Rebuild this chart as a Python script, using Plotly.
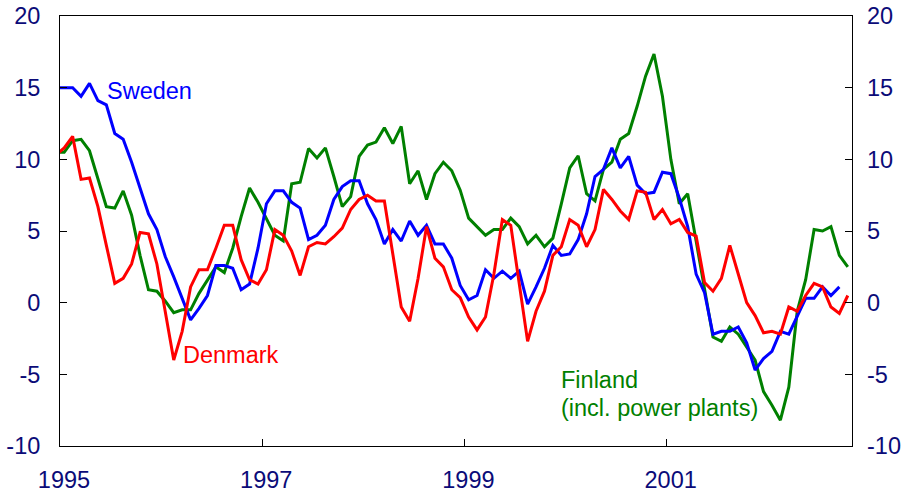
import plotly.graph_objects as go

# monthly observations, first value = Dec 1994 (clipped at left edge)
start_year = 1994
start_month = 12

sweden = [15.0, 15.0, 15.0, 14.4, 15.3, 14.1, 13.8, 11.8, 11.4, 9.8, 8.0, 6.2, 5.1, 3.2, 1.8, 0.3,
          -1.2, -0.4, 0.5, 2.6, 2.6, 2.4, 0.9, 1.3, 3.8, 6.9, 7.8, 7.8, 7.0, 6.6, 4.4, 4.7,
          5.4, 7.2, 8.1, 8.5, 8.5, 6.9, 5.8, 4.1, 5.1, 4.3, 5.7, 4.7, 5.4, 4.1, 4.1, 3.1,
          1.2, 0.2, 0.5, 2.3, 1.7, 2.2, 1.7, 2.2, -0.1, 1.1, 2.4, 4.0, 3.3, 3.4, 4.4, 6.2,
          8.8, 9.3, 10.8, 9.4, 10.2, 8.2, 7.6, 7.7, 9.1, 9.0, 7.3, 5.3, 2.0, 0.7, -2.2, -2.0,
          -2.0, -1.7, -2.8, -4.7, -3.9, -3.4, -2.0, -2.2, -0.9, 0.3, 0.3, 1.1, 0.5, 1.1]

denmark = [10.3, 10.8, 11.6, 8.6, 8.7, 6.7, 4.0, 1.35, 1.7, 2.7, 4.9, 4.8, 2.7, -0.6, -4.0, -2.0,
           1.1, 2.3, 2.3, 3.8, 5.4, 5.4, 3.0, 1.6, 1.3, 2.3, 5.1, 4.7, 3.6, 1.9, 3.9, 4.2,
           4.1, 4.6, 5.2, 6.5, 7.2, 7.5, 7.1, 7.1, 3.3, -0.3, -1.3, 1.7, 5.3, 3.1, 2.5, 0.9,
           0.35, -1.0, -1.9, -1.0, 2.0, 5.8, 5.4, 1.4, -2.7, -0.6, 0.8, 3.3, 3.9, 5.8, 5.4, 3.9,
           5.1, 7.9, 7.2, 6.4, 5.8, 7.8, 7.7, 5.8, 6.5, 5.5, 5.8, 4.9, 4.65, 1.4, 0.8, 1.7,
           4.0, 2.0, 0.0, -0.9, -2.1, -2.0, -2.2, -0.3, -0.6, 0.5, 1.35, 1.1, -0.3, -0.75, 0.5]

finland = [10.5, 10.5, 11.3, 11.4, 10.6, 8.7, 6.7, 6.6, 7.8, 6.1, 3.3, 0.9, 0.8, 0.1, -0.7, -0.5,
           -0.5, 0.65, 1.6, 2.5, 2.1, 3.8, 6.0, 8.0, 7.0, 5.9, 4.7, 4.3, 8.3, 8.4, 10.75, 10.1,
           10.8, 8.8, 6.7, 7.4, 10.2, 11.0, 11.2, 12.2, 11.1, 12.3, 8.3, 9.2, 7.2, 9.0, 9.8, 9.2,
           7.85, 5.9, 5.3, 4.7, 5.1, 5.1, 5.9, 5.3, 4.1, 4.7, 3.9, 4.5, 6.9, 9.4, 10.25, 7.6,
           7.1, 9.3, 9.8, 11.4, 11.8, 13.7, 15.8, 17.35, 14.4, 10.0, 6.9, 7.6, 4.3, 0.95, -2.4, -2.7,
           -1.7, -2.2, -3.1, -4.0, -6.2, -7.15, -8.2, -5.9, -0.6, 1.6, 5.1, 5.0, 5.3, 3.3, 2.5]

y_tick_vals = [-10, -5, 0, 5, 10, 15, 20]
y_tick_text = ["-10", "-5", "0", "5", "10", "15", "20"]
x_tick_vals = [1995, 1997, 1999, 2001]
x_tick_text = ["1995", "1997", "1999", "2001"]


def month_x(n):
    # mid-month position in decimal years
    return [start_year + (start_month - 1 + i + 0.5) / 12.0 for i in range(n)]


FONT = "Liberation Sans, Arial, sans-serif"
NAVY = "#0b0b78"
FS = 23.5

fig = go.Figure()
fig.add_trace(go.Scatter(x=month_x(len(finland)), y=finland, mode="lines",
                         line=dict(color="#008000", width=3), hoverinfo="skip"))
fig.add_trace(go.Scatter(x=month_x(len(sweden)), y=sweden, mode="lines",
                         line=dict(color="#0000ff", width=3), hoverinfo="skip"))
fig.add_trace(go.Scatter(x=month_x(len(denmark)), y=denmark, mode="lines",
                         line=dict(color="#ff0000", width=3), hoverinfo="skip"))
fig.add_trace(go.Scatter(x=[1995], y=[0], yaxis="y2", mode="lines",
                         line=dict(width=0), hoverinfo="skip", showlegend=False))

fig.update_layout(
    width=906, height=494,
    margin=dict(l=60, r=54, t=16, b=48),
    paper_bgcolor="white", plot_bgcolor="white",
    showlegend=False,
    font=dict(family=FONT, size=FS, color=NAVY),
    xaxis=dict(range=[1995, 1995 + 94 / 12.0], tickvals=x_tick_vals, ticktext=x_tick_text,
               showgrid=False, zeroline=False, showline=True, linecolor="black", linewidth=1,
               mirror=True, ticks="inside", ticklen=7, tickcolor="black",
               ticklabelstandoff=13, ticklabelshift=4, automargin=False,
               tickfont=dict(family=FONT, size=FS, color=NAVY)),
    yaxis=dict(range=[-10, 20], tickvals=y_tick_vals, ticktext=y_tick_text,
               showgrid=False, zeroline=False, showline=True, linecolor="black", linewidth=1,
               mirror=True, ticks="inside", ticklen=7, tickcolor="black",
               ticklabelstandoff=14, automargin=False,
               tickfont=dict(family=FONT, size=FS, color=NAVY)),
    yaxis2=dict(range=[-10, 20], tickvals=y_tick_vals, ticktext=y_tick_text,
                overlaying="y", side="right", showgrid=False, zeroline=False,
                showline=False, ticks="inside", ticklen=7, tickcolor="black",
                ticklabelstandoff=14, automargin=False,
                tickfont=dict(family=FONT, size=FS, color=NAVY)),
)

annots = [
    ("Sweden", "#0000ff", 1995.442, 14.74),
    ("Denmark", "#ff0000", 1996.198, -3.65),
    ("Finland", "#008000", 1999.937, -5.39),
    ("(incl. power plants)", "#008000", 1999.937, -7.35),
]
for txt, col, ax_, ay_ in annots:
    fig.add_annotation(x=ax_, y=ay_, xref="x", yref="y", text=txt, showarrow=False,
                       xanchor="left", yanchor="middle",
                       font=dict(family=FONT, size=FS, color=col))

fig.write_html("out.html", config={"displayModeBar": False, "staticPlot": True},
               post_script="document.body.style.margin='0';document.body.style.overflow='hidden';")
